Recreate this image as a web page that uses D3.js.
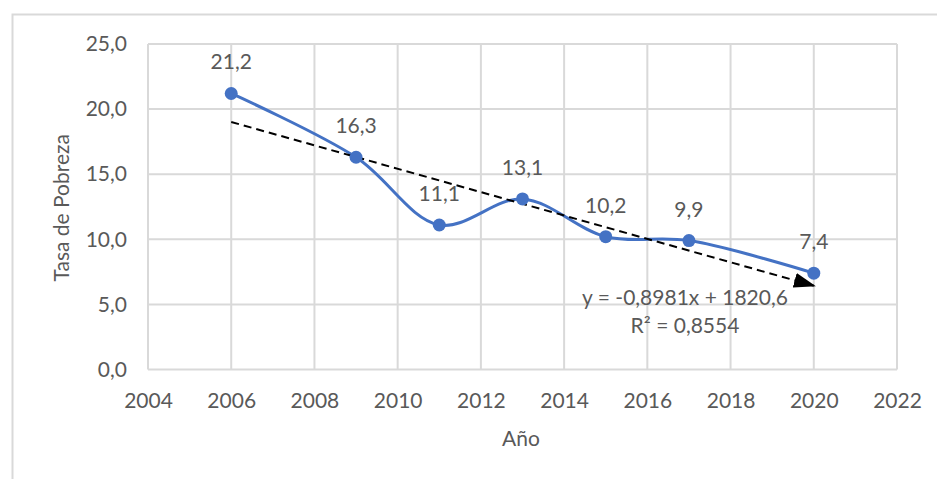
<!DOCTYPE html>
<html lang="es">
<head>
  <meta charset="UTF-8">
  <title>Tasa de Pobreza</title>
  <script src="https://cdn.jsdelivr.net/npm/d3@7"></script>
  <style>
    body { margin: 0; background: #fff; }
    svg text { font-family: Lato, "Open Sans", sans-serif; fill: #595959; }
    .tick-label { font-size: 21px; }
    .axis-title { font-size: 21px; }
    .data-label { font-size: 21px; }
    .trend-label { font-size: 21px; }
  </style>
</head>
<body>
  <div id="container"></div>
  <script>
    // data
    const years = [2006, 2009, 2011, 2013, 2015, 2017, 2020];
    const rates = [21.2, 16.3, 11.1, 13.1, 10.2, 9.9, 7.4];
    const labels = ["21,2", "16,3", "11,1", "13,1", "10,2", "9,9", "7,4"];
    const xTicks = [2004, 2006, 2008, 2010, 2012, 2014, 2016, 2018, 2020, 2022];
    const yTicks = [0, 5, 10, 15, 20, 25];
    const yTickLabels = ["0,0", "5,0", "10,0", "15,0", "20,0", "25,0"];
    // trendline as printed on the chart
    const trendCoef = [-0.8981, 1820.6];
    const trendYears = [2006, 2020];
    const trendText = ["y = -0,8981x + 1820,6", "R² = 0,8554"];

    const blue = "#4472C4";
    const grid = "#d9d9d9";

    const W = 937, H = 479;
    const plot = { left: 148, right: 897, top: 44, bottom: 369.5 };

    const svg = d3.select("#container").append("svg")
      .attr("width", W)
      .attr("height", H);

    // outer chart border
    svg.append("rect")
      .attr("x", 12.5).attr("y", 14.5)
      .attr("width", W).attr("height", H)
      .attr("fill", "none")
      .attr("stroke", grid)
      .attr("stroke-width", 2);

    const x = d3.scaleLinear().domain([2004, 2022]).range([plot.left, plot.right]);
    const y = d3.scaleLinear().domain([0, 25]).range([plot.bottom, plot.top]);

    // gridlines
    svg.append("g").selectAll("line")
      .data(xTicks)
      .join("line")
      .attr("x1", d => x(d)).attr("x2", d => x(d))
      .attr("y1", plot.top).attr("y2", plot.bottom)
      .attr("stroke", grid).attr("stroke-width", 2);

    svg.append("g").selectAll("line")
      .data(yTicks)
      .join("line")
      .attr("x1", plot.left).attr("x2", plot.right)
      .attr("y1", d => y(d)).attr("y2", d => y(d))
      .attr("stroke", grid).attr("stroke-width", 2);

    // x axis labels
    const xAxis = svg.append("g")
      .attr("transform", `translate(0, ${plot.bottom})`)
      .call(d3.axisBottom(x).tickValues(xTicks).tickFormat(d3.format("d")).tickSize(0).tickPadding(24));
    xAxis.select(".domain").remove();

    // y axis labels
    const yAxis = svg.append("g")
      .attr("transform", `translate(${plot.left}, 0)`)
      .call(d3.axisLeft(y).tickValues(yTicks).tickFormat((d, i) => yTickLabels[i]).tickSize(0).tickPadding(21));
    yAxis.select(".domain").remove();

    [xAxis, yAxis].forEach(a => {
      a.attr("font-size", null).attr("font-family", null);
      a.selectAll("text").attr("class", "tick-label").attr("fill", null);
    });

    // axis titles
    svg.append("text")
      .attr("class", "axis-title")
      .attr("transform", `translate(69, ${(plot.top + plot.bottom) / 2 + 1}) rotate(-90)`)
      .attr("text-anchor", "middle")
      .text("Tasa de Pobreza");

    svg.append("text")
      .attr("class", "axis-title")
      .attr("x", 521).attr("y", 446)
      .attr("text-anchor", "middle")
      .text("Año");

    const pts = years.map((yr, i) => [yr, rates[i]]);

    // smoothed series line
    const line = d3.line()
      .x(d => x(d[0]))
      .y(d => y(d[1]))
      .curve(d3.curveCatmullRom.alpha(0.5));

    svg.append("path")
      .datum(pts)
      .attr("d", line)
      .attr("fill", "none")
      .attr("stroke", blue)
      .attr("stroke-width", 3);

    // trendline with arrow
    svg.append("defs").append("marker")
      .attr("id", "arrow")
      .attr("viewBox", "0 0 10 10")
      .attr("refX", 9).attr("refY", 5)
      .attr("markerWidth", 22).attr("markerHeight", 15)
      .attr("markerUnits", "userSpaceOnUse")
      .attr("orient", "auto")
      .attr("preserveAspectRatio", "none")
      .append("path")
      .attr("d", "M0,0 L10,5 L0,10 Z")
      .attr("fill", "#000");

    const trendPts = trendYears.map(yr => [yr, trendCoef[0] * yr + trendCoef[1]]);
    svg.append("line")
      .attr("x1", x(trendPts[0][0])).attr("y1", y(trendPts[0][1]))
      .attr("x2", x(trendPts[1][0])).attr("y2", y(trendPts[1][1]))
      .attr("stroke", "#000")
      .attr("stroke-width", 2)
      .attr("stroke-dasharray", "8 5")
      .attr("marker-end", "url(#arrow)");

    // markers
    svg.append("g").selectAll("circle")
      .data(pts)
      .join("circle")
      .attr("cx", d => x(d[0]))
      .attr("cy", d => y(d[1]))
      .attr("r", 6.5)
      .attr("fill", blue);

    // data labels
    svg.append("g").selectAll("text")
      .data(pts)
      .join("text")
      .attr("class", "data-label")
      .attr("x", d => x(d[0]))
      .attr("y", d => y(d[1]) - 24)
      .attr("text-anchor", "middle")
      .text((d, i) => labels[i]);

    // trendline equation
    svg.append("g").selectAll("text")
      .data(trendText)
      .join("text")
      .attr("class", "trend-label")
      .attr("x", 685)
      .attr("y", (d, i) => 305 + i * 28)
      .attr("text-anchor", "middle")
      .text(d => d);
  </script>
</body>
</html>
